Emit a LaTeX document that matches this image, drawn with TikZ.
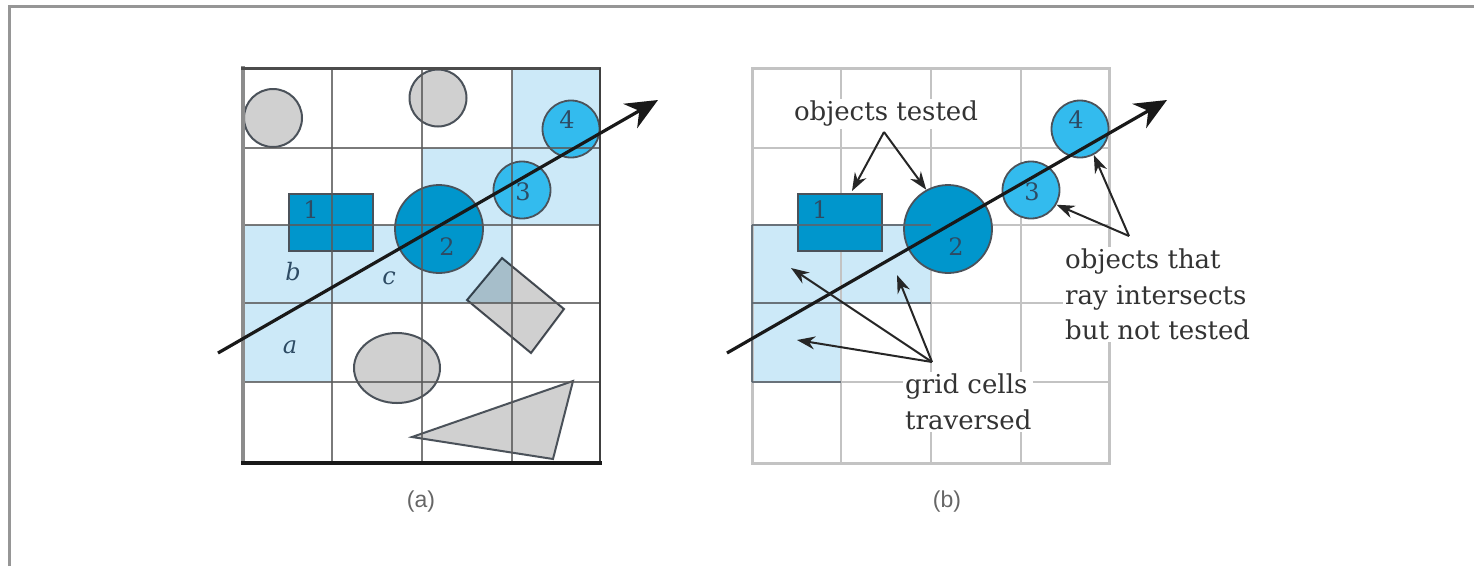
\documentclass[tikz,border=0pt]{standalone}
\usepackage{fontspec}
\setmainfont{DejaVu Serif}
\newfontfamily\capfont{Liberation Sans}
\usetikzlibrary{arrows.meta,shapes.geometric,calc}
\definecolor{lblue}{RGB}{204,233,248}
\definecolor{dblue}{RGB}{0,150,204}
\definecolor{mblue}{RGB}{51,187,238}
\definecolor{shapegray}{RGB}{208,208,208}
\definecolor{outl}{RGB}{75,82,90}
\definecolor{numc}{RGB}{45,75,100}
\definecolor{framec}{RGB}{150,150,150}
\definecolor{gridlight}{RGB}{195,195,195}
\definecolor{griddark}{RGB}{90,100,110}
\tikzset{
  grayobj/.style={fill=shapegray, draw=outl, line width=2pt, inner sep=0pt},
  tested/.style={fill=dblue, draw=outl, line width=1.8pt, inner sep=0pt},
  untested/.style={fill=mblue, draw=outl, line width=1.8pt, inner sep=0pt},
  numlabel/.style={text=numc, font=\fontsize{24}{28}\selectfont, inner sep=0pt},
  cellname/.style={text=numc, font=\itshape\fontsize{24}{28}\selectfont, inner sep=0pt},
  gridA/.style={draw=black!65, line width=1.5pt, opacity=0.8},
  gridB/.style={draw=gridlight, line width=2pt},
  gridBdark/.style={draw=griddark, line width=2pt, opacity=0.85},
  ray/.style={line width=3.2pt, draw=black!90, -{Stealth[length=32pt,width=28pt]}},
  note/.style={font=\fontsize{26}{35.5}\selectfont, text=black!80, fill=white, inner sep=2pt},
  callout/.style={line width=2pt, draw=black!85, -{Stealth[length=18pt,width=13pt]}},
  caption/.style={font=\capfont\fontsize{23}{27}\selectfont, text=black!60}
}
\begin{document}
\begin{tikzpicture}[x=1pt,y=-1pt]
\useasboundingbox (0,0) rectangle (1474,566);
% outer frame
\draw[framec, line width=3pt] (9,566) -- (9,6.5) -- (1474,6.5);

% ================= (a) =================
\fill[lblue] (512,68) rectangle (600,148);
\fill[lblue] (422,148) rectangle (600,225);
\fill[lblue] (243,225) rectangle (512,303);
\fill[lblue] (243,303) rectangle (332,382);

\node[grayobj, circle, minimum size=58pt] (g1) at (273,118) {};
\node[grayobj, circle, minimum size=57pt] (g2) at (438,98) {};
\node[grayobj, ellipse, minimum width=86pt, minimum height=70pt] (g3) at (397,368) {};
\draw[grayobj, blend mode=multiply] (502,258) -- (564,309) -- (531,353) -- (467,300) -- cycle;
\draw[grayobj] (412,437) -- (573,381) -- (553,459) -- cycle;

\node[tested, rectangle, minimum width=84pt, minimum height=57pt] (o1a) at (331,222.5) {};
\node[tested, circle, minimum size=88pt] (o2a) at (439,229) {};
\node[untested, circle, minimum size=57pt] (o3a) at (522,190) {};
\node[untested, circle, minimum size=57pt] (o4a) at (571,129) {};

\foreach \x in {332,422,512} \draw[gridA] (\x,68) -- (\x,463);
\foreach \y in {148,225,303,382} \draw[gridA] (243,\y) -- (600,\y);
\draw[line width=4pt, black!45] (243,66) -- (243,465);
\draw[line width=3pt, black!70] (241,68) -- (601,68);
\draw[line width=2.5pt, black!75] (600,68) -- (600,463);
\draw[line width=4pt, black!90] (241,463) -- (602,463);

\node[numlabel] (n1a) at (311,210) {1};
\node[numlabel] (n2a) at (447,247) {2};
\node[numlabel] (n3a) at (523,192) {3};
\node[numlabel] (n4a) at (567,120) {4};
\node[cellname] (la) at (290,347) {a};
\node[cellname] (lb) at (293,272) {b};
\node[cellname] (lc) at (389,278) {c};

\coordinate (raya0) at (218,353);
\coordinate (raya1) at (658,100);
\draw[ray] (raya0) -- (raya1);

\node[caption] (capa) at (421,502) {(a)};

% ================= (b) =================
\fill[lblue] (752,225) rectangle (931,303);
\fill[lblue] (752,303) rectangle (841,382);
\foreach \x in {841,931,1021} \draw[gridB] (\x,68) -- (\x,463);
\foreach \y in {148,225,303,382} \draw[gridB] (752,\y) -- (1109,\y);
\draw[gridB, line width=3pt] (752,68) rectangle (1109,463);

\node[tested, rectangle, minimum width=84pt, minimum height=57pt] (o1b) at (840,222.5) {};
\node[tested, circle, minimum size=88pt] (o2b) at (948,229) {};
\node[untested, circle, minimum size=57pt] (o3b) at (1031,190) {};
\node[untested, circle, minimum size=57pt] (o4b) at (1080,129) {};

\draw[gridBdark] (752,225) -- (931,225);
\draw[gridBdark] (752,303) -- (931,303);
\draw[gridBdark] (752,382) -- (841,382);
\draw[gridBdark] (752,225) -- (752,382);

\node[numlabel] (n1b) at (820,210) {1};
\node[numlabel] (n2b) at (956,247) {2};
\node[numlabel] (n3b) at (1032,192) {3};
\node[numlabel] (n4b) at (1076,120) {4};

\coordinate (rayb0) at (727,353);
\coordinate (rayb1) at (1167,100);
\draw[ray] (rayb0) -- (rayb1);

% annotations
\node[note] (ot) at (886,114) {objects tested};
\node[note, anchor=north west, align=left] (oi) at (1063,247) {objects that\\ray intersects\\but not tested};
\node[note, anchor=north west, align=left] (gc) at (903,372) {grid cells\\traversed};

\coordinate (otS) at (884,132);
\coordinate (otT) at (852,191);
\draw[callout] (otS) -- (otT);
\draw[callout] (otS) -- (o2b.119);

\coordinate (oiS) at (1129,236);
\draw[callout] (oiS) -- (o3b.-30);
\draw[callout] (oiS) -- (o4b.-62);

\coordinate (gcS) at (932,362);
\coordinate (gcT1) at (791,268);
\coordinate (gcT2) at (897,275);
\coordinate (gcT3) at (797,340);
\draw[callout] (gcS) -- (gcT1);
\draw[callout] (gcS) -- (gcT2);
\draw[callout] (gcS) -- (gcT3);

\node[caption] (capb) at (947,502) {(b)};
\end{tikzpicture}
\end{document}
